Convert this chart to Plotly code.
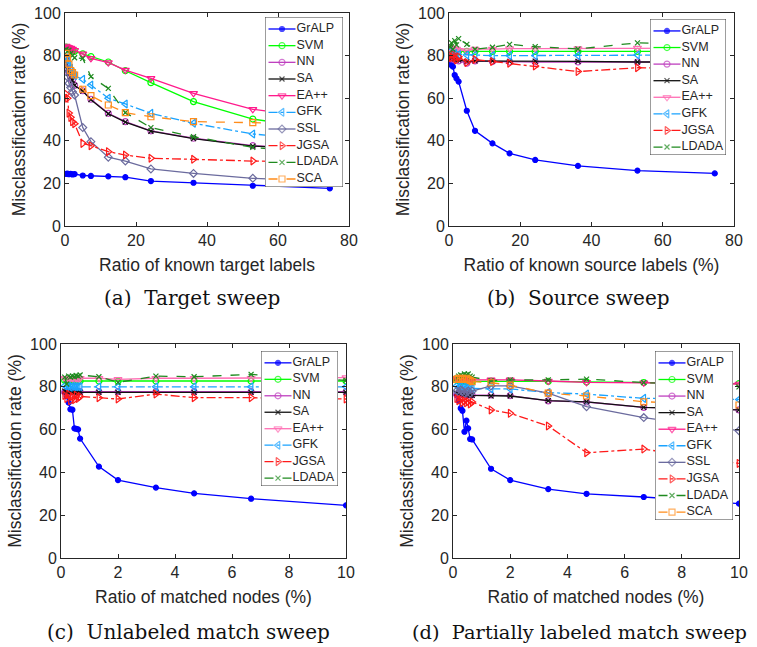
import plotly.graph_objects as go

# ---------------- data ----------------
x_sweep = [0.3, 0.7, 1.1, 1.6, 2.1, 2.7, 5, 7.3, 12.2, 17, 24.2, 36.2, 52.9, 74.6]
x_match = [0.13, 0.2, 0.27, 0.33, 0.4, 0.47, 0.53, 0.6, 0.67, 1.33, 2, 3.33, 4.67, 6.67, 10]

panel_a = {
    "GrALP": [24.5, 24.6, 24.3, 24.5, 24.2, 24.4, 23.7, 23.5, 23.3, 22.9, 21.1, 20.3, 18.9, 17.7],
    "SVM":   [84, 83.6, 83.4, 83, 82.5, 82, 80.8, 79.5, 77, 72.9, 67.3, 58.4, 50.2, 45],
    "NN":    [78, 74, 72, 70, 68.5, 66, 63.5, 59.5, 52.9, 49, 44.7, 41.2, 37.7, 36],
    "SA":    [77.5, 73.5, 71.5, 70, 68.5, 66, 63.3, 59.3, 52.7, 48.8, 44.5, 41, 37.5, 35.8],
    "EA++":  [84.5, 84, 83.8, 83.5, 83, 82.5, 80.8, 78.7, 76.7, 73.2, 69.3, 62.3, 54.8, 50],
    "GFK":   [79, 78, 76, 74, 72, 70.5, 68.9, 66.2, 60, 57.3, 52.9, 48.2, 43.2, 40],
    "SSL":   [74, 70, 67, 65, 63, 61.5, 46.2, 39.6, 32.3, 30.5, 26.8, 24.7, 22.4, 21],
    "JGSA":  [62, 60, 53, 51, 49, 48, 38.8, 37.7, 34.9, 33.3, 31.8, 31.3, 30.5, 30],
    "LDADA": [83, 82, 82.5, 81, 80, 79, 78.7, 70.1, 64.6, 53.2, 46.2, 41.9, 36.9, 34],
    "SCA":   [81, 79, 76, 73, 72, 70.9, 64.2, 61.2, 56.8, 53.2, 51.3, 49, 48.5, 48],
}
panel_b = {
    "GrALP": [78, 75.5, 74.8, 70.9, 69.3, 67.8, 54.1, 44.7, 38.8, 34.1, 31, 28.2, 26, 24.7],
    "SVM":   [83, 82.5, 82, 82, 81.5, 82, 82, 82, 82, 82, 82, 82, 82, 82],
    "NN":    [79, 78.5, 79, 78, 78, 77.5, 76.4, 77.5, 77.2, 77, 77, 77, 77, 77],
    "SA":    [80, 79, 79.5, 78.5, 78, 78, 77.2, 77.5, 77.5, 77.3, 77.4, 77.3, 77, 77],
    "EA++":  [84, 83, 83.5, 82.5, 83, 82.5, 82.3, 83, 83, 83.3, 83.3, 83.3, 83.5, 83.5],
    "GFK":   [82, 81, 80.5, 81, 80, 80.5, 80.3, 80.3, 80, 80, 80, 80, 80.3, 80.3],
    "JGSA":  [80, 79, 80.5, 79, 78, 79.5, 76.8, 78.2, 77.2, 76.4, 75.1, 72.5, 74.3, 74],
    "LDADA": [84, 86, 83, 87, 85, 88, 85.3, 83, 83.9, 85.3, 84.2, 83.1, 86, 85],
}
panel_c = {
    "GrALP": [77.5, 75.5, 72.6, 69.5, 69.3, 60.6, 60.4, 60.1, 55.8, 42.7, 36.4, 32.9, 30.2, 27.7, 24.6],
    "SVM":   [83, 82.5, 83, 82.5, 83, 82.5, 82.8, 82.6, 82.7, 82.7, 82.6, 82.7, 82.7, 82.7, 82.7],
    "NN":    [77.5, 77.7, 77.5, 77.8, 77.6, 77.7, 77.5, 77.7, 77.7, 77.7, 77.7, 77.7, 77.7, 77.7, 77.7],
    "SA":    [78, 77.5, 77.8, 77.4, 77.5, 77.4, 77.3, 77.4, 77.4, 77.4, 77.4, 77.4, 77.4, 77.4, 77.4],
    "EA++":  [84, 83.5, 84, 83.8, 84, 83.6, 84, 83.8, 84, 84, 83.5, 84, 84, 84, 84.3],
    "GFK":   [80.5, 80, 80.3, 79.8, 80.2, 80, 80, 80, 80, 80, 80, 80, 80, 80, 80],
    "JGSA":  [76, 74.5, 76.5, 73.5, 75.5, 74, 76, 74.5, 75.5, 74.9, 74.3, 76.6, 74.9, 74.9, 74.3],
    "LDADA": [84.5, 81.3, 85, 84.5, 85, 84.7, 85.3, 85, 85.5, 84.7, 82.1, 85, 84.7, 85.8, 83],
}
panel_d = {
    "GrALP": [76, 73.5, 70, 68.8, 59, 64.2, 60.6, 55.6, 55.4, 41.7, 36.4, 32.2, 30, 28.5, 25.4],
    "SVM":   [83, 83, 82.5, 83, 82.5, 83, 82.5, 82.5, 82.5, 82.7, 82.7, 82.5, 82.3, 82, 81.5],
    "NN":    [76.5, 77, 76.5, 76.8, 76.3, 76.5, 76.2, 76.2, 76.2, 76.2, 75.9, 73.4, 72.9, 70.4, 69.2],
    "SA":    [77, 77.2, 76.8, 77, 76.5, 76.5, 76.3, 76, 76, 75.7, 75.7, 73.5, 73, 70.4, 69.2],
    "EA++":  [84, 83.5, 84, 83.5, 83.8, 83.5, 83.5, 83.2, 83.2, 83.2, 83.2, 82.7, 82.1, 81.9, 81.3],
    "GFK":   [80.5, 80, 80, 79.5, 80, 79.5, 79.8, 79.5, 79.3, 79, 79, 77.3, 76.6, 74.6, 74.1],
    "SSL":   [78, 77.5, 78.5, 78, 77, 77.5, 78, 77, 78, 80.4, 80.4, 77, 70.7, 65.6, 59.5],
    "JGSA":  [74.5, 73.5, 74, 72.5, 73.5, 72.5, 73, 72, 72.9, 69.2, 67.6, 61.7, 49.2, 50.9, 44.2],
    "LDADA": [84, 85, 85.5, 85, 86, 85.5, 86, 85, 84.5, 82.9, 83.2, 83.2, 83.6, 82, 80],
    "SCA":   [83.5, 84, 83.5, 84, 83.5, 84, 83.5, 83, 82.4, 81.9, 80.8, 77, 75.7, 73, 71.5],
}

y_ticks = [0, 20, 40, 60, 80, 100]
x_ticks_sweep = [0, 20, 40, 60, 80]
x_ticks_match = [0, 2, 4, 6, 8, 10]
x_titles = ["Ratio of known target labels", "Ratio of known source labels (%)",
            "Ratio of matched nodes (%)", "Ratio of matched nodes (%)"]
y_title = "Misclassification rate (%)"
captions = ["(a)  Target sweep", "(b)  Source sweep",
            "(c)  Unlabeled match sweep", "(d)  Partially labeled match sweep"]

# ---------------- styles ----------------
styles = {
    "GrALP": dict(color="#0000ff", dash="solid", symbol="circle", size=5),
    "SVM":   dict(color="#00ff00", dash="solid", symbol="circle-open", size=6),
    "NN":    dict(color="#bf40bf", dash="solid", symbol="circle-open", size=6),
    "SA":    dict(color="#111111", dash="solid", symbol="x-thin-open", size=5),
    "EA++":  dict(color="#ff1a8c", dash="solid", symbol="triangle-down-open", size=7),
    "GFK":   dict(color="#1aa3ff", dash="dashdot", symbol="triangle-left-open", size=7),
    "SSL":   dict(color="#6b6b9e", dash="solid", symbol="diamond-open", size=6),
    "JGSA":  dict(color="#ff1a1a", dash="dashdot", symbol="triangle-right-open", size=7),
    "LDADA": dict(color="#1f8a1f", dash="dash", symbol="x-thin-open", size=5),
    "SCA":   dict(color="#ff8c1a", dash="dash", symbol="square-open", size=6),
}
ea_light = "#ff6eb4"  # EA++ looks lighter in panels (b) and (c)

W, H = 757, 647
# plot areas in pixels: (left, right, top, bottom)
areas = [(65, 349, 13, 226), (449, 734, 13, 226), (61, 346, 344, 558), (453, 739, 344, 558)]
# legend boxes in pixels: (left, right, top, bottom)
legend_boxes = [(265, 343, 17, 187), (650, 726, 19, 155), (261, 338, 351, 486), (655, 733, 351, 520)]
caption_pos = [(102, 298), (485, 298), (45, 632), (410, 632)]
caption_sizes = [20, 20, 20, 19.4]

fig = go.Figure()
panels = [(panel_a, x_sweep), (panel_b, x_sweep), (panel_c, x_match), (panel_d, x_match)]


def style_for(i, name):
    s = dict(styles[name])
    if name == "EA++" and i in (1, 2):
        s["color"] = ea_light
    return s


for i, (pdata, xs) in enumerate(panels):
    k = "" if i == 0 else str(i + 1)
    for name, ys in pdata.items():
        s = style_for(i, name)
        fig.add_trace(go.Scatter(
            x=xs, y=ys, name=name, mode="lines+markers", showlegend=False,
            xaxis="x" + k, yaxis="y" + k,
            line=dict(color=s["color"], width=1.3, dash=s["dash"]),
            marker=dict(symbol=s["symbol"], size=s["size"], color=s["color"],
                        line=dict(width=1.2, color=s["color"])),
        ))

# ---------------- legends (drawn on overlay axes, one per panel) ----------------
for i, (pdata, xs) in enumerate(panels):
    k = str(i + 5)
    l, r, t, b = legend_boxes[i]
    w = r - l
    n = len(pdata)
    fig.add_trace(go.Scatter(
        x=[0, w, w, 0, 0], y=[-0.72, -0.72, n - 0.52, n - 0.52, -0.72],
        mode="lines", fill="toself", fillcolor="white", showlegend=False,
        line=dict(color="#3a3a3a", width=1), xaxis="x" + k, yaxis="y" + k, hoverinfo="skip"))
    for j, name in enumerate(pdata):
        s = style_for(i, name)
        fig.add_trace(go.Scatter(
            x=[3.5, 17, 30.5], y=[j, j, j], mode="lines+markers", showlegend=False,
            xaxis="x" + k, yaxis="y" + k, hoverinfo="skip",
            line=dict(color=s["color"], width=1.3, dash=s["dash"]),
            marker=dict(symbol=s["symbol"], size=[0, s["size"], 0], color=s["color"],
                        line=dict(width=1.2, color=s["color"]))))
    fig.add_trace(go.Scatter(
        x=[31.5] * n, y=list(range(n)), mode="text", text=list(pdata.keys()),
        textposition="middle right", showlegend=False, hoverinfo="skip",
        textfont=dict(size=12.5, color="#262626", family="Liberation Sans, Arial, sans-serif"),
        xaxis="x" + k, yaxis="y" + k))

font_fam = "Liberation Sans, Arial, sans-serif"
layout = dict(
    width=W, height=H, margin=dict(l=0, r=0, t=0, b=0),
    paper_bgcolor="white", plot_bgcolor="rgba(0,0,0,0)",
    font=dict(family=font_fam, size=16, color="#262626"),
    annotations=[], showlegend=False,
)
for i in range(4):
    k = "" if i == 0 else str(i + 1)
    l, r, t, b = areas[i]
    xr = [0, 80] if i < 2 else [0, 10]
    xt = x_ticks_sweep if i < 2 else x_ticks_match
    axis_common = dict(showline=True, linecolor="#262626", linewidth=1, mirror="ticks",
                       ticks="inside", ticklen=4, tickcolor="#262626", showgrid=False,
                       zeroline=False, tickfont=dict(size=16, color="#262626"))
    layout["xaxis" + k] = dict(axis_common, domain=[l / W, r / W], range=xr, tickvals=xt,
                               anchor="y" + k, automargin=False,
                               title=dict(text=x_titles[i], font=dict(size=17.5), standoff=10))
    layout["yaxis" + k] = dict(axis_common, domain=[1 - b / H, 1 - t / H], range=[0, 100],
                               tickvals=y_ticks, anchor="x" + k, automargin=False,
                               title=dict(text=y_title, font=dict(size=17.5), standoff=3))
    lk = str(i + 5)
    ll, lr, lt, lb = legend_boxes[i]
    n = len(panels[i][0])
    hidden = dict(visible=False, showgrid=False, zeroline=False, fixedrange=True)
    layout["xaxis" + lk] = dict(hidden, domain=[ll / W, lr / W], range=[0, lr - ll],
                                anchor="y" + lk)
    layout["yaxis" + lk] = dict(hidden, domain=[1 - lb / H, 1 - lt / H],
                                range=[n - 0.52, -0.72], anchor="x" + lk)
    cx, cy = caption_pos[i]
    layout["annotations"].append(dict(
        text=captions[i], x=cx / W, y=1 - cy / H, xref="paper", yref="paper",
        xanchor="left", yanchor="middle", showarrow=False,
        font=dict(family="DejaVu Serif, serif", size=caption_sizes[i], color="#111111")))

fig.update_layout(**layout)
fig.write_html("out.html")
